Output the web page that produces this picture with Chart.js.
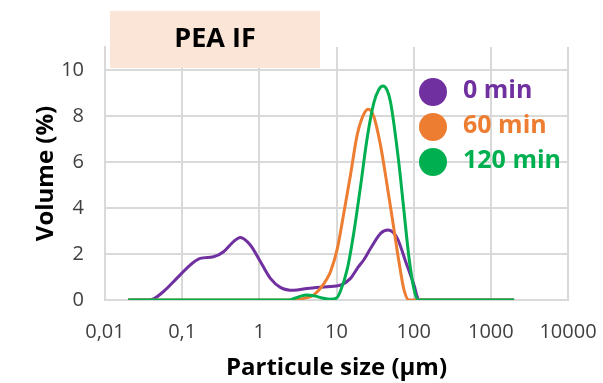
<!DOCTYPE html>
<html><head><meta charset="utf-8">
<script src="https://cdn.jsdelivr.net/npm/chart.js@4/dist/chart.umd.min.js"></script>
<style>html,body{margin:0;padding:0;background:#fff}#wrap{width:603px;height:383px;position:relative}</style>
</head><body><div id="wrap"><canvas id="c" width="603" height="383"></canvas></div>
<script>
const chartTitle = 'PEA IF';
const xAxisTitle = 'Particule size (µm)';
const yAxisTitle = 'Volume (%)';
const seriesLabels = ['0 min', '60 min', '120 min'];
const seriesColors = ['#7030A0', '#ED7D31', '#00B050'];

// 0 min
const sizes0  = [0.02, 0.038, 0.057, 0.085, 0.127, 0.171, 0.255, 0.344, 0.463, 0.566, 0.764, 1.03, 1.39, 1.87, 2.79, 4.16, 7.57, 11.3, 15.2, 18.6, 22.6, 27.7, 37.3, 46.4, 61.4, 78.7, 101, 117, 2000];
const volume0 = [0, 0, 0.36, 0.94, 1.52, 1.81, 1.88, 2.1, 2.54, 2.72, 2.39, 1.67, 0.94, 0.55, 0.42, 0.5, 0.58, 0.65, 0.94, 1.38, 1.75, 2.25, 2.9, 3.04, 2.68, 1.67, 0.65, 0, 0];
// 60 min
const sizes60  = [0.02, 2.5, 3.2, 3.76, 5.07, 6.19, 7.57, 8.36, 10.2, 12.4, 15.2, 18.6, 22.6, 25.8, 30.5, 37.3, 45.5, 55.5, 64.4, 74.8, 86.9, 2000];
const volume60 = [0, 0, 0.02, 0.07, 0.22, 0.51, 0.94, 1.23, 2.2, 3.75, 5.45, 7.2, 8.08, 8.29, 7.97, 6.7, 4.95, 3.08, 1.67, 0.45, 0, 0];
// 120 min
const sizes120  = [0.02, 2.4, 3.0, 4.0, 5.3, 6.5, 8.2, 10.0, 11.3, 13.8, 16.8, 20.5, 25.0, 30.5, 35.4, 40.0, 45.5, 50.2, 63.8, 74.8, 86.9, 101, 114, 2000];
const volume120 = [0, 0, 0.1, 0.22, 0.17, 0.09, 0.03, 0.08, 0.4, 1.35, 2.95, 4.95, 7.05, 8.58, 9.15, 9.3, 9.1, 8.6, 6.05, 3.88, 1.85, 0.47, 0, 0];

const xTickValues = [0.01, 0.1, 1, 10, 100, 1000, 10000];
const xTickLabels = ['0,01', '0,1', '1', '10', '100', '1000', '10000'];
const yTickMax = 10;

const toPoints = (xs, ys) => xs.map((x, i) => ({x: x, y: ys[i]}));
const seriesData = [toPoints(sizes0, volume0), toPoints(sizes60, volume60), toPoints(sizes120, volume120)];

const FONT = "'Open Sans', 'DejaVu Sans', sans-serif";
Chart.defaults.font.family = FONT;

const titleBoxPlugin = {
  id: 'titleBox',
  afterDraw(chart, args, o) {
    const ctx = chart.ctx, a = chart.chartArea;
    const x = a.left + o.offsetX, y = o.top, w = o.width, h = a.top + o.overlap - o.top;
    ctx.save();
    ctx.fillStyle = o.background;
    ctx.fillRect(x, y, w, h);
    ctx.fillStyle = o.color;
    ctx.font = o.font;
    ctx.textAlign = 'center';
    ctx.textBaseline = 'middle';
    ctx.fillText(o.text, x + w / 2, y + h / 2 + o.textDy);
    ctx.restore();
  }
};

const dotLegendPlugin = {
  id: 'dotLegend',
  afterDatasetsDraw(chart, args, o) {
    const ctx = chart.ctx, a = chart.chartArea;
    ctx.save();
    chart.data.datasets.forEach((ds, i) => {
      const cx = a.left + o.left, cy = a.top + o.top + i * o.spacing;
      ctx.beginPath();
      ctx.arc(cx, cy, o.radius, 0, Math.PI * 2);
      ctx.fillStyle = ds.borderColor;
      ctx.fill();
      ctx.font = o.font;
      ctx.textAlign = 'left';
      ctx.textBaseline = 'middle';
      ctx.fillText(ds.label, cx + o.textGap, cy + o.textDy);
    });
    ctx.restore();
  }
};

const gridStyle = {color: '#D9D9D9', lineWidth: 2, drawTicks: false};
const borderStyle = {color: '#D9D9D9', width: 2};

new Chart(document.getElementById('c'), {
  type: 'line',
  data: {
    datasets: seriesLabels.map((label, i) => ({
      label: label,
      data: seriesData[i],
      borderColor: seriesColors[i],
      backgroundColor: seriesColors[i],
      borderWidth: 3,
      pointRadius: 0,
      fill: false,
      cubicInterpolationMode: 'monotone',
      order: 3 - i
    }))
  },
  options: {
    responsive: false,
    animation: false,
    layout: {padding: {top: 47, right: 35, bottom: 0, left: 0}},
    plugins: {
      legend: {display: false},
      tooltip: {enabled: false},
      titleBox: {text: chartTitle, offsetX: 5, top: 11, width: 210, overlap: 21, background: '#FBE5D6', color: '#000000', font: "bold 27px " + FONT, textDy: 0},
      dotLegend: {left: 328, top: 45, spacing: 35, radius: 14, textGap: 30, textDy: -1, font: "bold 25px " + FONT}
    },
    scales: {
      x: {
        type: 'logarithmic',
        min: xTickValues[0],
        max: xTickValues[xTickValues.length - 1],
        afterBuildTicks(s) { s.ticks = xTickValues.map(v => ({value: v, major: true})); },
        afterFit(s) { s.height = 83; s.paddingLeft = 0; s.paddingRight = 0; },
        ticks: {
          autoSkip: false, maxRotation: 0, minRotation: 0, padding: 20,
          font: {size: 20}, color: '#404040',
          callback: (v, i) => xTickLabels[i]
        },
        grid: gridStyle,
        border: borderStyle,
        title: {display: true, text: xAxisTitle, color: '#000000', font: {size: 24, weight: 'bold'}, padding: {top: 0, bottom: 0}}
      },
      y: {
        min: 0,
        max: 11,
        afterBuildTicks(s) { s.ticks = s.ticks.filter(t => t.value <= yTickMax); },
        afterFit(s) { s.width = 105; s.paddingTop = 0; s.paddingBottom = 0; },
        ticks: {stepSize: 2, padding: 21, font: {size: 20}, color: '#404040'},
        grid: gridStyle,
        border: borderStyle,
        title: {display: true, text: yAxisTitle, color: '#000000', font: {size: 24, weight: 'bold'}, padding: {top: 32, bottom: 0}}
      }
    }
  },
  plugins: [titleBoxPlugin, dotLegendPlugin]
});
</script>
</body></html>
